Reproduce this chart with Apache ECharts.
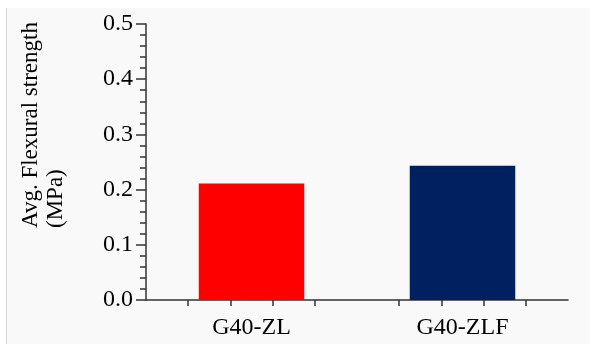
<!DOCTYPE html>
<html>
<head>
<meta charset="utf-8">
<script src="https://cdn.jsdelivr.net/npm/echarts@6/dist/echarts.min.js"></script>
<style>
html,body{margin:0;padding:0;background:#fff;}
#chart{width:590px;height:344px;}
</style>
</head>
<body>
<div id="chart"></div>
<script>
var categories = ['G40-ZL', 'G40-ZLF'];
var values = [0.211, 0.243];
var barColors = ['#ff0000', '#002060'];
var yTicks = [0, 0.1, 0.2, 0.3, 0.4, 0.5];
var xSubTicks = [1, 2, 3, 4, 6, 7, 8, 9];
var yName = 'Avg. Flexural strength\n(MPa)';

var font = 'Liberation Serif';
var axisColor = '#333333';

var chart = echarts.init(document.getElementById('chart'));
chart.setOption({
  backgroundColor: '#ffffff',
  animation: false,
  graphic: [
    { type: 'rect', z: -10, silent: true, shape: { x: 7, y: 8, width: 583, height: 336 }, style: { fill: '#f9f9f9' } },
    { type: 'line', z: -9, silent: true, shape: { x1: 6.5, y1: 8, x2: 6.5, y2: 344 }, style: { stroke: '#d6d6d6', lineWidth: 1 } },
    { type: 'text', x: 18, y: 228, rotation: Math.PI / 2, silent: true,
      style: { text: yName, fill: '#000', font: '23px "' + font + '"', textAlign: 'left', textVerticalAlign: 'top', lineHeight: 25 } }
  ],
  grid: { left: 146, right: 22, top: 24, bottom: 44 },
  xAxis: [
    {
      type: 'category', data: categories, position: 'bottom',
      axisLine: { show: true, lineStyle: { color: axisColor, width: 1.5 } },
      axisTick: { show: false },
      axisLabel: { color: '#000', fontFamily: font, fontSize: 24, margin: 16 }
    },
    {
      type: 'value', min: 0, max: 10, interval: 1, position: 'bottom',
      axisLine: { show: false },
      axisTick: { show: true, customValues: xSubTicks, length: 6, lineStyle: { color: axisColor, width: 1.5 } },
      axisLabel: { show: false },
      splitLine: { show: false }
    }
  ],
  yAxis: {
    type: 'value', min: 0, max: 0.5, interval: 0.1,
    axisLine: { show: true, lineStyle: { color: axisColor, width: 1.5 } },
    axisTick: { show: true, length: 10, lineStyle: { color: axisColor, width: 1.5 } },
    minorTick: { show: true, splitNumber: 5, length: 6, lineStyle: { color: axisColor, width: 1.5 } },
    splitLine: { show: false },
    axisLabel: { color: '#000', fontFamily: font, fontSize: 24, margin: 13,
      formatter: function (v) { return v.toFixed(1); } }
  },
  series: [{
    type: 'bar', xAxisIndex: 0, barWidth: '50%',
    data: values.map(function (v, i) { return { value: v, itemStyle: { color: barColors[i] } }; })
  }]
});
</script>
</body>
</html>
